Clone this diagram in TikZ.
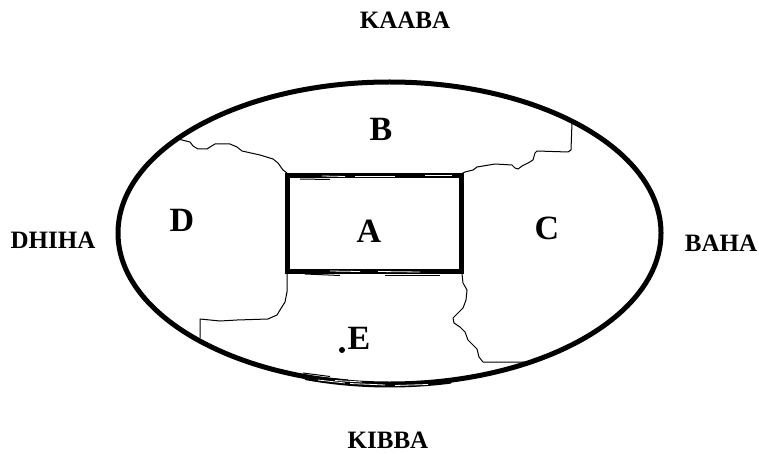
\documentclass[tikz,border=0pt]{standalone}
\usepackage{fontspec}
\setmainfont{Liberation Serif}
\usetikzlibrary{shapes.geometric}
\begin{document}
\begin{tikzpicture}[x=1pt,y=-1pt,
  sidelabel/.style={font=\fontsize{25}{25}\selectfont\bfseries, inner sep=0pt},
  regionlabel/.style={font=\fontsize{34}{34}\selectfont\bfseries, inner sep=0pt},
  border/.style={line width=1pt, line join=round},
  scribble/.style={line width=1pt},
  streak/.style={white, line width=0.8pt}]
\useasboundingbox (0,0) rectangle (759,454);
% outer ellipse
\node[draw, line width=5pt, ellipse, inner sep=0pt, minimum width=543pt, minimum height=302pt] (world) at (389.5,233) {};
% thickened, messy bottom of the ellipse
\draw[line width=3pt, line cap=round] ({389.5+271.5*cos(77)},{235+151*sin(77)}) arc[start angle=77, end angle=108, x radius=271.5, y radius=151];
\draw[scribble] (303,373) -- (330,376.5);
\draw[scribble] (318,377) -- (348,380);
\draw[scribble] (306,379) -- (325,381.5);
\draw[streak] (318,380) -- (345,383);
\draw[streak] (350,383.5) -- (385,385);
\draw[streak] (395,385.5) -- (428,384.5);
\draw[streak] (335,380.5) -- (362,382);
% central rectangle
\node[draw, line width=5pt, rectangle, inner sep=0pt, minimum width=174pt, minimum height=95pt] (rect) at (374,223.5) {};
% messy rectangle edges
\draw[scribble] (300,179) -- (330,179.5);
\draw[streak] (322,176) -- (345,176.5);
\draw[streak] (355,176) -- (395,176);
\draw[streak] (425,175.5) -- (452,175.5);
\draw[scribble] (305,274) -- (340,275.5);
\draw[streak] (330,271) -- (360,271.5);
\draw[streak] (378,271.5) -- (420,272);
\draw[scribble] (385,275) -- (440,275);
% region boundaries
\draw[border] (178,139) -- (190,142) -- (193,146) -- (198,149) -- (207,149) -- (210,147) -- (215,144) -- (230,144) -- (237,147) -- (242,151) -- (260,155) -- (273,159) -- (278,163) -- (283,170) -- (287,173);
\draw[border] (572,122) -- (571,150) -- (568,152) -- (537,151) -- (535,153) -- (533,160) -- (528,163) -- (522,166) -- (518,169) -- (515,168) -- (512,165) -- (495,164) -- (477,167) -- (473,170) -- (465,172) -- (461,174);
\draw[border] (287,273) -- (287,292) -- (285,302) -- (280,310) -- (277,315) -- (268,319) -- (237,320) -- (220,321) -- (200,319) -- (200,338);
\draw[border] (462,274) -- (463,283) -- (467,290) -- (466,300) -- (463,308) -- (458,313) -- (453,318) -- (454,323) -- (460,327) -- (465,332) -- (468,340) -- (473,345) -- (477,349) -- (479,357) -- (483,362) -- (533,362);
% region letters
\node[regionlabel] (labB) at (381,129) {B};
\node[regionlabel] (labD) at (182,220) {D};
\node[regionlabel] (labA) at (369,231) {A};
\node[regionlabel] (labC) at (547,228) {C};
\node[regionlabel] (labE) at (359,338) {E};
\fill (342,350) circle (3pt);
% outside labels
\node[sidelabel] (kaaba) at (405,20) {KAABA};
\node[sidelabel] (dhiha) at (53,240) {DHIHA};
\node[sidelabel] (baha) at (721,243) {BAHA};
\node[sidelabel] (kibba) at (388,440) {KIBBA};
\end{tikzpicture}
\end{document}
